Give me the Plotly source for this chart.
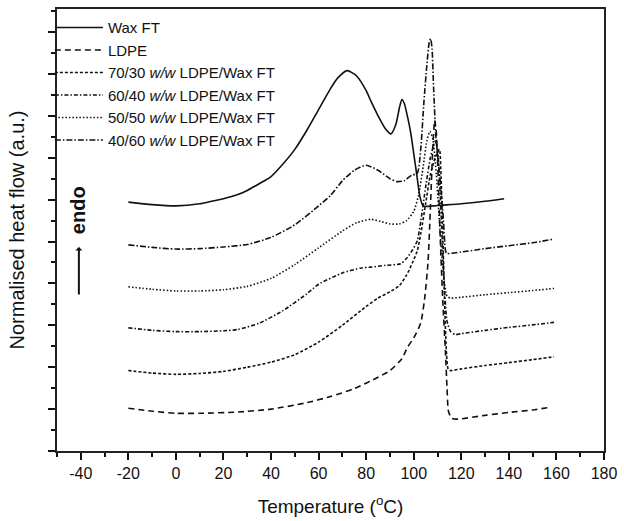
import plotly.graph_objects as go

# ---- data (temperature in degC, normalised heat flow in a.u. with vertical offsets) ----
wax_T = [-20, -10, 0, 10, 15, 20, 26, 30, 35, 40, 45, 50, 55, 60, 65, 68, 72, 76, 80, 82, 85, 88, 90.4, 92.5, 94, 95, 96, 97.5, 98.8, 100, 101.5, 102.5, 103.5, 104.3, 106, 110, 120, 130, 138]
wax_y = [5.94, 5.88, 5.85, 5.9, 5.96, 6.02, 6.12, 6.22, 6.38, 6.55, 6.85, 7.2, 7.65, 8.15, 8.65, 8.9, 9.08, 8.95, 8.6, 8.35, 8.0, 7.7, 7.57, 7.8, 8.2, 8.39, 8.3, 7.95, 7.57, 7.1, 6.5, 6.1, 5.9, 5.84, 5.84, 5.86, 5.9, 5.96, 6.02]

b4060_T = [-20, -10, 0, 10, 20, 30, 40, 50, 60, 65, 70, 75, 80, 85, 90, 93, 96, 99, 101.5, 102.9, 104.3, 105.5, 106.5, 107.1, 107.7, 108.4, 109.3, 110.5, 111.5, 112.5, 113.3, 113.8, 120, 130, 140, 150, 159]
b4060_y = [4.92, 4.86, 4.82, 4.83, 4.87, 4.93, 5.1, 5.4, 5.85, 6.1, 6.45, 6.7, 6.82, 6.7, 6.5, 6.43, 6.45, 6.58, 6.63, 7.18, 8.35, 9.2, 9.75, 9.84, 9.6, 8.6, 7.5, 6.8, 6.2, 5.5, 4.8, 4.72, 4.75, 4.83, 4.9, 4.97, 5.06]

b5050_T = [-20, -10, 0, 10, 20, 30, 40, 50, 60, 70, 76, 82, 86, 90, 94, 97, 100, 102, 104, 105.5, 106.8, 108, 109.5, 111, 112.5, 114, 115.4, 120, 130, 140, 150, 159]
b5050_y = [3.92, 3.86, 3.82, 3.82, 3.85, 3.93, 4.12, 4.45, 4.85, 5.25, 5.45, 5.53, 5.48, 5.42, 5.42, 5.5, 5.72, 6.1, 6.8, 7.4, 7.63, 7.45, 6.6, 5.3, 4.2, 3.7, 3.65, 3.67, 3.73, 3.78, 3.83, 3.88]

b6040_T = [-20, -10, 0, 10, 20, 26, 35, 45, 55, 60, 70, 78, 82, 88, 94.5, 97, 99.5, 101.5, 103, 105, 107, 109, 110, 111, 112, 113, 114, 115.5, 117.5, 120, 130, 140, 150, 159]
b6040_y = [2.94, 2.88, 2.85, 2.85, 2.87, 2.9, 3.05, 3.35, 3.75, 3.98, 4.25, 4.37, 4.39, 4.43, 4.47, 4.6, 4.8, 5.02, 5.5, 6.3, 7.0, 7.4, 7.2, 6.3, 5.0, 3.8, 3.1, 2.85, 2.78, 2.8, 2.88, 2.95, 3.01, 3.07]

b7030_T = [-20, -10, 0, 10, 20, 30, 40, 50, 60, 70, 80, 85, 90, 94, 97, 99.5, 101.5, 103, 105, 107, 109, 110.8, 111.5, 112.3, 113, 113.8, 114.5, 115.4, 120, 130, 140, 150, 159]
b7030_y = [1.92, 1.86, 1.83, 1.85, 1.9, 2.0, 2.12, 2.3, 2.6, 3.0, 3.45, 3.65, 3.8, 3.95, 4.2, 4.5, 4.78, 5.2, 5.9, 6.6, 7.0, 7.2, 6.5, 5.0, 3.5, 2.3, 1.95, 1.92, 1.96, 2.04, 2.11, 2.18, 2.25]

ldpe_T = [-20, -10, 0, 10, 26, 40, 54, 65, 75, 85, 90, 95, 97.3, 100, 102.9, 104.5, 106, 107, 108, 108.8, 109.5, 110.3, 111.2, 112.2, 113.3, 114, 114.6, 116, 118.2, 130, 140, 150, 157]
ldpe_y = [1.02, 0.95, 0.9, 0.9, 0.93, 1.0, 1.14, 1.3, 1.49, 1.76, 1.92, 2.2, 2.47, 2.7, 3.05, 3.6, 4.5, 5.8, 7.2, 7.9, 7.6, 6.5, 5.0, 3.6, 2.4, 1.5, 0.95, 0.78, 0.76, 0.85, 0.92, 0.98, 1.04]

names = ["Wax FT", "LDPE", "70/30 <i>w/w</i> LDPE/Wax FT", "60/40 <i>w/w</i> LDPE/Wax FT",
         "50/50 <i>w/w</i> LDPE/Wax FT", "40/60 <i>w/w</i> LDPE/Wax FT"]

x_tickvals = [-40, -20, 0, 20, 40, 60, 80, 100, 120, 140, 160, 180]
x_ticktext = ["-40", "-20", "0", "20", "40", "60", "80", "100", "120", "140", "160", "180"]

series = [(wax_T, wax_y), (ldpe_T, ldpe_y), (b7030_T, b7030_y), (b6040_T, b6040_y),
          (b5050_T, b5050_y), (b4060_T, b4060_y)]
dashes = ["solid", "6px,4px", "3px,2px", "4px,2px,1.5px,2px", "1.5px,2px", "6px,2px,1.5px,2px"]

fig = go.Figure()
for (T, y), nm, ds in zip(series, names, dashes):
    fig.add_trace(go.Scatter(x=T, y=y, mode="lines", name=nm,
                             line=dict(color="#111111", width=1.6, dash=ds, shape="spline", smoothing=0.6)))

FONT = "Liberation Sans, Arial, sans-serif"

fig.add_annotation(x=-40.8, y=4.87, ax=-40.8, ay=3.53, xref="x", yref="y", axref="x", ayref="y",
                   showarrow=True, arrowhead=1, arrowsize=0.6, arrowwidth=2, arrowcolor="#111", text=" ")
fig.add_annotation(x=-41.4, y=5.76, xref="x", yref="y", text="<b>endo</b>", textangle=-90,
                   showarrow=False, font=dict(family=FONT, size=20, color="#111"))

fig.update_layout(
    width=624, height=521,
    margin=dict(l=57, r=16, t=7, b=66),
    paper_bgcolor="white", plot_bgcolor="white",
    font=dict(family=FONT, color="#111"),
    showlegend=True,
    legend=dict(x=-0.013, y=0.995, xanchor="left", yanchor="top", bgcolor="rgba(0,0,0,0)",
                font=dict(family=FONT, size=15, color="#111"), itemwidth=48,
                tracegroupgap=0),
    xaxis=dict(range=[-50, 180], tickmode="array", tickvals=x_tickvals, ticktext=x_ticktext,
               ticks="outside", ticklen=7, tickwidth=1.5,
               tickcolor="#111", showline=True, linewidth=2, linecolor="#222", mirror=True,
               showgrid=False, zeroline=False, tickfont=dict(size=16, family=FONT, color="#111"),
               minor=dict(tickvals=[-50, -30, -10, 10, 30, 50, 70, 90, 110, 130, 150, 170],
                          ticks="outside", ticklen=4, tickwidth=1.5, tickcolor="#111"),
               title=dict(text="Temperature (<sup>o</sup>C)", font=dict(size=19, family=FONT, color="#111"),
                          standoff=18)),
    yaxis=dict(range=[0, 10.55], tick0=0, dtick=1, ticks="outside", ticklen=7, tickwidth=1.5,
               tickcolor="#111", showline=True, linewidth=2, linecolor="#222", mirror=True,
               showgrid=False, zeroline=False, showticklabels=False,
               minor=dict(dtick=0.5, tick0=0, ticks="outside", ticklen=4, tickwidth=1.5, tickcolor="#111"),
               title=dict(text="Normalised heat flow (a.u.)", font=dict(size=20, family=FONT, color="#111"),
                          standoff=18)),
)

fig.write_html("out.html")
